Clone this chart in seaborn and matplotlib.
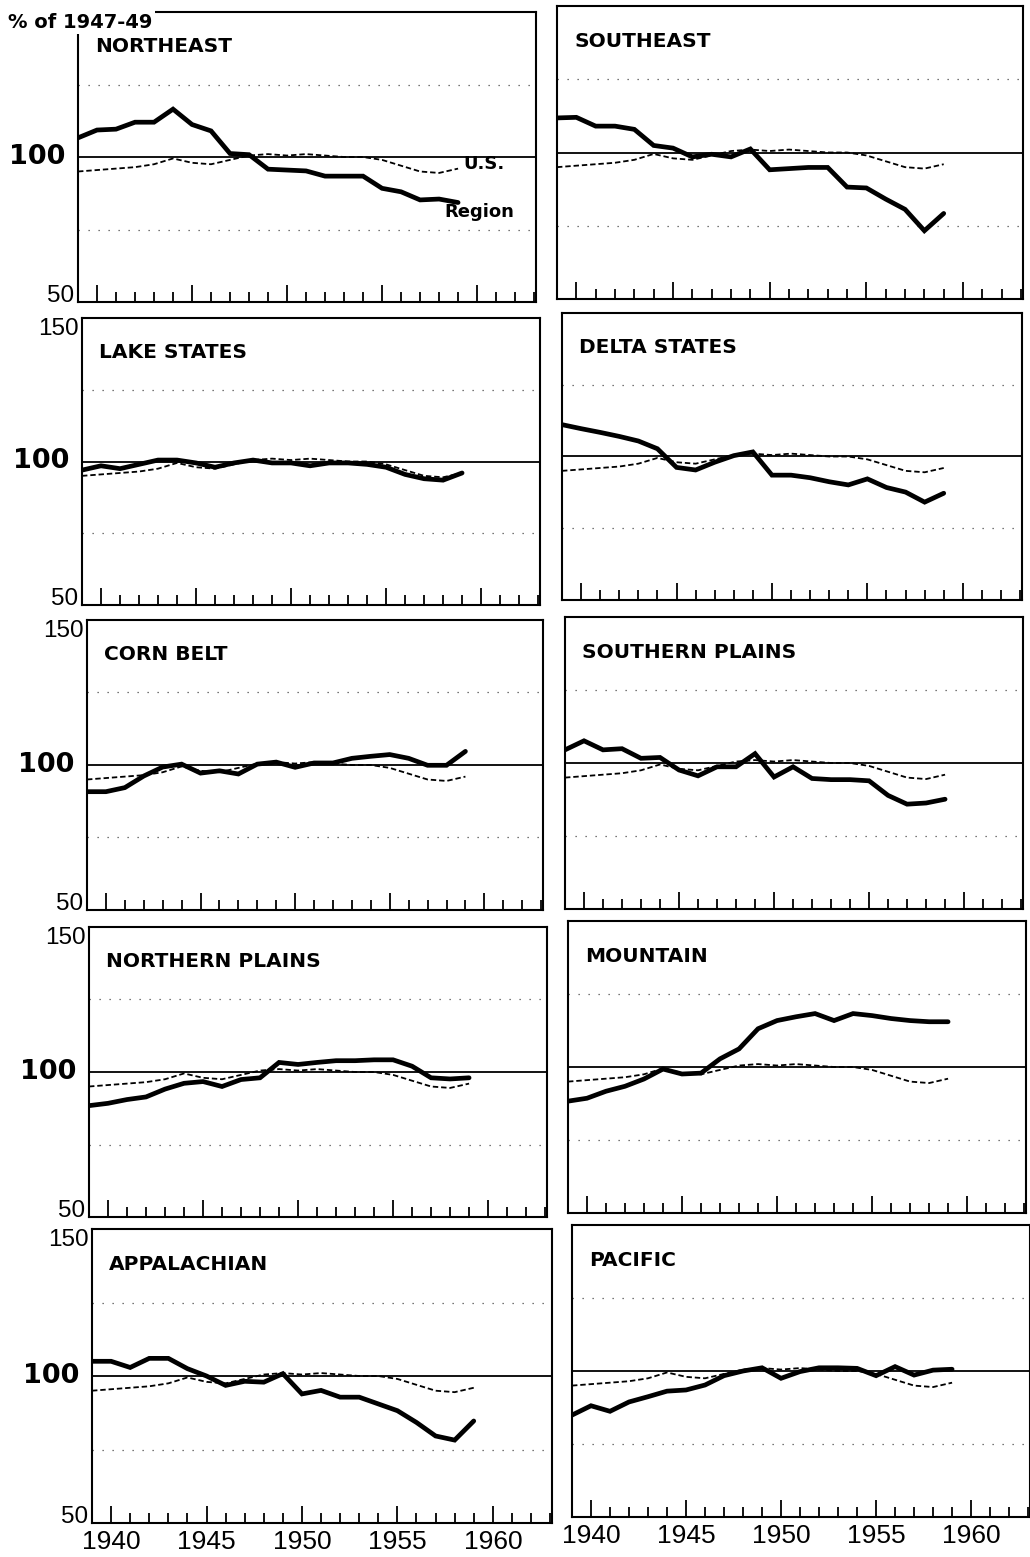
import numpy as np
import pandas as pd
import matplotlib
matplotlib.use("Agg")
import matplotlib.pyplot as plt
import matplotlib.transforms as mtransforms
from matplotlib.ticker import MultipleLocator
import seaborn as sns

sns.set_style("white")
plt.rcParams['font.family'] = ['DejaVu Sans']
plt.rcParams['text.color'] = 'black'
plt.rcParams['xtick.color'] = 'black'
plt.rcParams['xtick.labelcolor'] = 'black'

# ---------------- data ----------------
years = list(range(1939, 1960))

us = [95.0, 95.5, 96.0, 96.5, 97.5, 99.5, 98.0, 97.5, 99.0, 100.5, 101.0,
      100.5, 101.0, 100.5, 100.0, 100.0, 99.0, 97.0, 95.0, 94.5, 96.0]

northeast = [106.6, 109.3, 109.6, 112.0, 112.0, 116.5, 111.2, 109.0, 101.2, 100.8, 95.8,
             95.5, 95.2, 93.4, 93.4, 93.4, 89.2, 88.0, 85.2, 85.5, 84.3]
southeast = [111.8, 112.0, 109.0, 109.0, 107.9, 102.4, 101.5, 98.5, 99.4, 98.5, 101.2,
             94.1, 94.5, 94.9, 94.9, 88.2, 87.9, 84.1, 80.6, 73.3, 79.2]
lake_states = [97.0, 98.5, 97.5, 99.0, 100.5, 100.5, 99.5, 98.0, 99.5, 100.5, 99.5,
               99.5, 98.5, 99.5, 99.5, 99.0, 98.0, 95.5, 94.0, 93.5, 96.0]
delta_states = [111.1, 109.7, 108.4, 107.0, 105.4, 102.7, 96.2, 95.3, 98.0, 100.3, 101.6,
                93.5, 93.5, 92.6, 91.2, 90.1, 92.2, 89.2, 87.6, 84.1, 87.2]
corn_belt = [90.8, 90.8, 92.2, 96.2, 99.3, 100.3, 97.2, 98.0, 96.9, 100.3, 101.0,
             99.2, 100.7, 100.7, 102.3, 103.0, 103.6, 102.3, 99.9, 99.9, 104.7]
southern_plains = [104.5, 107.6, 104.5, 104.9, 101.6, 101.9, 97.6, 95.6, 98.7, 98.7, 103.2,
                   95.2, 98.7, 94.7, 94.3, 94.3, 93.9, 88.9, 85.9, 86.3, 87.6]
northern_plains = [88.4, 89.2, 90.5, 91.4, 94.1, 96.1, 96.7, 95.0, 97.4, 98.0, 103.3,
                   102.6, 103.3, 103.9, 103.9, 104.2, 104.2, 102.0, 98.0, 97.6, 98.0]
mountain = [88.3, 89.3, 91.7, 93.4, 95.9, 99.3, 97.6, 97.9, 102.8, 106.2, 113.1,
            115.9, 117.2, 118.3, 115.9, 118.3, 117.6, 116.6, 115.9, 115.5, 115.5]
appalachian = [105.0, 105.0, 102.9, 106.0, 106.0, 102.5, 100.0, 96.8, 98.2, 97.9, 100.8,
               93.9, 95.1, 92.8, 92.8, 90.5, 88.2, 84.2, 79.6, 78.2, 84.7]
pacific = [84.9, 88.1, 86.2, 89.4, 91.2, 93.1, 93.5, 95.2, 98.4, 100.0, 101.1,
           97.5, 99.8, 101.1, 101.1, 100.9, 98.4, 101.5, 98.6, 100.3, 100.6]

region_names = ["NORTHEAST", "SOUTHEAST", "LAKE STATES", "DELTA STATES", "CORN BELT",
                "SOUTHERN PLAINS", "NORTHERN PLAINS", "MOUNTAIN", "APPALACHIAN", "PACIFIC"]
region_values = [northeast, southeast, lake_states, delta_states, corn_belt,
                 southern_plains, northern_plains, mountain, appalachian, pacific]

x_ticklabels = ["1940", "1945", "1950", "1955", "1960"]
y_ticklabels = ["50", "100", "150"]

rows = []
for name, vals in zip(region_names, region_values):
    for y, v, u in zip(years, vals, us):
        rows.append((name, y, v, "Region"))
        rows.append((name, y, u, "U.S."))
df = pd.DataFrame(rows, columns=["region", "year", "value", "series"])

# ---------------- layout (pixel boxes: left, top, right, bottom) ----------------
W, H = 1030, 1557
left_boxes = [(78, 12, 536, 302), (82, 318, 540, 605), (87, 620, 543, 910),
              (89, 927, 547, 1217), (92, 1229, 552, 1523)]
right_boxes = [(557, 6, 1023, 299), (562, 313, 1022, 600), (565, 617, 1023, 909),
               (568, 921, 1026, 1213), (572, 1225, 1030, 1517)]

fig = plt.figure(figsize=(W / 100, H / 100), dpi=100)
fig.patch.set_facecolor("white")

numfont = ['Liberation Sans', 'DejaVu Sans']

for i, name in enumerate(region_names):
    r, c = divmod(i, 2)
    box = left_boxes[r] if c == 0 else right_boxes[r]
    x0, t, x1, b = box
    ax = fig.add_axes([x0 / W, 1 - b / H, (x1 - x0) / W, (b - t) / H])
    sub = df[df.region == name]

    ax.axhline(100, color="black", lw=1.3, zorder=1)
    for g in (75, 125):
        ax.axhline(g, color="black", lw=0.9, ls=(0, (1, 7)), alpha=0.7, zorder=1)

    sns.lineplot(data=sub[sub.series == "U.S."], x="year", y="value", ax=ax,
                 color="black", linewidth=1.3, linestyle=(0, (3, 1.6)), zorder=2)
    sns.lineplot(data=sub[sub.series == "Region"], x="year", y="value", ax=ax,
                 color="black", linewidth=3.4, zorder=3, solid_joinstyle="miter")

    ax.set_xlim(1939, 1963.1)
    ax.set_ylim(50, 150)
    ax.set_xlabel("")
    ax.set_ylabel("")
    for sp in ax.spines.values():
        sp.set_visible(True)
        sp.set_color("black")
        sp.set_linewidth(1.5)

    ax.set_xticks([1940, 1945, 1950, 1955, 1960])
    ax.xaxis.set_minor_locator(MultipleLocator(1))
    ax.tick_params(axis="x", which="major", direction="in", length=12, width=1.3,
                   bottom=True, top=False, pad=5, color="black", labelcolor="black")
    ax.tick_params(axis="x", which="minor", direction="in", length=7, width=1.3,
                   bottom=True, top=False, color="black")
    if r == 4:
        ax.set_xticklabels(x_ticklabels, family=numfont, fontsize=19, color="black")
    else:
        ax.set_xticklabels([])
    ax.set_yticks([])

    if c == 0:
        tr = mtransforms.blended_transform_factory(ax.transAxes, ax.transData)
        ax.text(-0.008, 50, y_ticklabels[0], transform=tr, ha="right", va="baseline",
                fontsize=17.5, family=numfont, color="black")
        ax.text(-0.028, 100, y_ticklabels[1], transform=tr, ha="right", va="center",
                fontsize=19.5, fontweight="bold", color="black")
        if r > 0:
            ax.text(-0.008, 150, y_ticklabels[2], transform=tr, ha="right", va="top",
                    fontsize=17.5, family=numfont, color="black")

    ax.text(0.037, 0.88, name, transform=ax.transAxes, ha="left", va="center",
            fontsize=14.5, fontweight="bold", color="black")

    if i == 0:
        ax.text(1959.3, 97.6, "U.S.", ha="left", va="center", fontsize=13,
                fontweight="bold", color="black")
        ax.text(1958.3, 81, "Region", ha="left", va="center", fontsize=13,
                fontweight="bold", color="black")

fig.text(8 / W, 1 - 22 / H, "% of 1947-49", ha="left", va="center", fontsize=14,
         fontweight="bold", color="black", zorder=10,
         bbox=dict(facecolor="white", edgecolor="none", pad=1.5))

fig.savefig("out.png", dpi=100, facecolor="white")
